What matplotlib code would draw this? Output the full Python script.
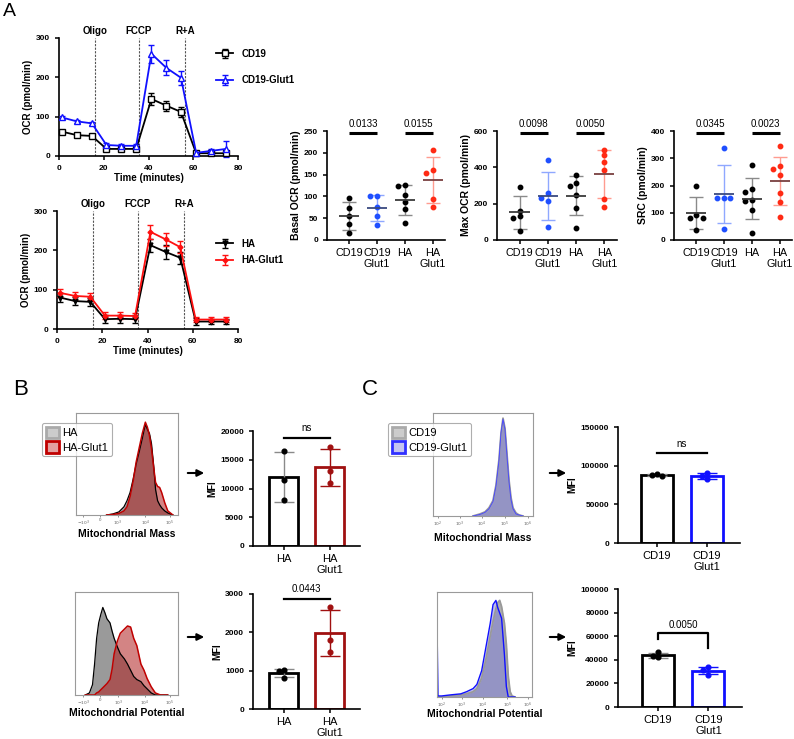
import numpy as np
import matplotlib
matplotlib.use("Agg")
import matplotlib.pyplot as plt
from matplotlib.patches import Patch, FancyArrowPatch

plt.rcParams['font.family'] = ['Liberation Sans', 'DejaVu Sans']
plt.rcParams['axes.linewidth'] = 1.2

# ---------------- data ----------------
# A: seahorse OCR traces
time_min = [1.3, 8, 14.7, 21.2, 27.9, 34.5, 41.3, 48, 54.5, 61.3, 68, 74.6]
inject_times = [16, 35.7, 56.3]
inject_names = ['Oligo', 'FCCP', 'R+A']
ocr_cd19 = [62, 53, 51, 18, 18, 18, 145, 128, 112, 7, 7, 7]
ocr_cd19_err = [4, 3, 3, 3, 3, 3, 16, 13, 12, 3, 3, 3]
ocr_cd19glut1 = [98, 88, 83, 28, 26, 26, 260, 224, 199, 8, 13, 18]
ocr_cd19glut1_err = [4, 4, 4, 4, 4, 4, 23, 19, 18, 4, 5, 20]
ocr_ha = [80, 71, 69, 25, 26, 25, 213, 196, 181, 19, 19, 19]
ocr_ha_err = [12, 10, 10, 10, 10, 10, 16, 18, 15, 10, 6, 7]
ocr_haglut1 = [92, 84, 82, 34, 34, 33, 247, 228, 208, 24, 24, 24]
ocr_haglut1_err = [10, 9, 9, 8, 8, 8, 18, 16, 16, 6, 6, 6]

# A: per-sample summary values
groups = ['CD19', 'CD19\nGlut1', 'HA', 'HA\nGlut1']
basal = [[96, 74, 55, 36, 15], [101, 101, 75, 55, 35],
         [123, 126, 103, 88, 72, 38], [206, 161, 154, 95, 76]]
maxocr = [[293, 160, 132, 122, 51], [439, 232, 256, 214, 70],
          [315, 357, 296, 247, 177, 64], [498, 470, 430, 384, 223, 183]]
src = [[197, 92, 82, 82, 37], [338, 155, 155, 155, 40],
       [274, 176, 188, 144, 146, 110, 24], [345, 261, 271, 237, 173, 139, 85]]
basal_p = ['0.0133', '0.0155']
max_p = ['0.0098', '0.0050']
src_p = ['0.0345', '0.0023']

# B/C: flow histograms (x in arbitrary channel units, y in % of max)
mass_x_B = [30, 36, 42, 47, 50, 53, 56, 59, 62, 65, 68, 70, 72, 74, 76, 78, 80, 82, 84, 87, 90, 95]
mass_HA = [0, 1, 3, 8, 14, 22, 35, 50, 62, 75, 89, 84, 80, 70, 50, 25, 14, 10, 7, 4, 2, 0]
mass_HAGlut1 = [0, 0.5, 1.5, 4, 8, 18, 33, 52, 66, 80, 91, 86, 78, 65, 48, 32, 28, 27, 22, 12, 4, 0]
pot_x_B = [10, 14, 17, 19, 21, 23, 25, 27, 29, 31, 34, 36, 38, 41, 44, 48, 51, 54, 57, 60, 64, 67, 70, 74, 78, 83, 90]
pot_HA = [0, 2, 10, 30, 55, 70, 78, 85, 80, 74, 70, 62, 55, 47, 40, 35, 30, 24, 18, 15, 13, 9, 6, 2, 0, 0, 0]
pot_HAGlut1 = [0, 0, 0, 0, 2, 3, 5, 7, 9, 11, 15, 25, 40, 52, 60, 64, 67, 66, 55, 48, 30, 24, 16, 8, 2, 0, 0]
mass_x_C = [40, 47, 52, 56, 60, 63, 66, 68, 70, 72, 74, 76, 78, 80, 83, 86, 90]
mass_CD19 = [0, 2, 4, 8, 15, 30, 55, 80, 95, 85, 60, 35, 18, 8, 3, 1, 0]
mass_CD19Glut1 = [0, 1.5, 3.5, 7, 14, 29, 54, 81, 94, 84, 58, 33, 16, 7, 2, 1, 0]
pot_x_C = [0, 1, 5, 14, 25, 31, 38, 42, 47, 52, 56, 59, 62, 64, 66, 68, 71, 73, 75, 77, 79, 82]
pot_CD19Glut1 = [72, 1, 1, 2, 3, 5, 8, 12, 25, 50, 70, 88, 92, 85, 80, 75, 40, 10, 0, 0, 0, 0]
pot_CD19 = [0, 0, 0, 1, 2, 3, 5, 8, 18, 38, 58, 72, 84, 90, 92, 86, 70, 50, 20, 5, 1, 0]
ticks_B = [r'$-10^3$', '0', r'$10^3$', r'$10^4$', r'$10^5$']
ticks_C = [r'$10^2$', r'$10^3$', r'$10^4$', r'$10^5$', r'$10^6$']

# B/C: MFI bars
mfi_mass_HA = [[16500, 11500, 8000], [17200, 13000, 10900]]
mfi_pot_HA = [[1020, 990, 820], [2650, 1800, 1480]]
mfi_mass_CD19 = [[86500, 89500, 88000], [90500, 83000, 87000]]
mfi_pot_CD19 = [[46500, 42500, 43000], [33500, 31500, 27500]]

# ---------------- layout helpers ----------------
W, H = 794, 739
fig = plt.figure(figsize=(W / 100, H / 100), dpi=100)


def px_axes(l, t, r, b):
    return fig.add_axes([l / W, 1 - b / H, (r - l) / W, (b - t) / H])


def prism(ax):
    ax.spines['top'].set_visible(False)
    ax.spines['right'].set_visible(False)
    ax.tick_params(width=1.1, length=3, labelsize=6)
    for t in ax.get_yticklabels():
        t.set_fontweight('bold')


def swarm(vals, ymax, h_px, unit_px, step=6.0, rad=5.0):
    ys = np.asarray(vals, float) / ymax * h_px
    offs = np.zeros(len(ys))
    placed = []
    for i in np.argsort(-ys):
        for k in [0, -1, 1, -2, 2, -3, 3]:
            xp = k * step
            if all(np.hypot(xp - px, ys[i] - py) >= rad for px, py in placed):
                break
        placed.append((xp, ys[i]))
        offs[i] = xp / unit_px
    return offs


# ---------------- A: OCR traces ----------------
def ocr_panel(box, series, legend_xy, lspace, inj_dy):
    ax = px_axes(*box)
    for y, e, col, mk, mfc, ms, lab in series:
        ax.errorbar(time_min, y, yerr=e, color=col, marker=mk, mfc=mfc, mec=col,
                    ms=ms, lw=1.3, elinewidth=1, capsize=2.5, capthick=1, label=lab,
                    clip_on=False, zorder=3)
    for t, name in zip(inject_times, inject_names):
        ax.axvline(t, color='#555555', ls=(0, (2, 1.2)), lw=0.8, zorder=1)
        ax.text(t, 300 + inj_dy, name, ha='center', va='bottom', fontsize=7,
                fontweight='bold', clip_on=False)
    ax.set_xlim(0, 80)
    ax.set_ylim(0, 300)
    ax.set_xticks([0, 20, 40, 60, 80])
    ax.set_yticks([0, 100, 200, 300])
    prism(ax)
    for t in ax.get_xticklabels():
        t.set_fontweight('bold')
    ax.set_xlabel('Time (minutes)', fontsize=7, fontweight='bold', labelpad=1)
    ax.set_ylabel('OCR (pmol/min)', fontsize=7, fontweight='bold', labelpad=2)
    leg = ax.legend(loc='upper left', bbox_to_anchor=(legend_xy[0] / W, 1 - legend_xy[1] / H),
                    bbox_transform=fig.transFigure, frameon=False, fontsize=7,
                    handlelength=1.8, labelspacing=lspace, borderaxespad=0)
    for t in leg.get_texts():
        t.set_fontweight('bold')
    return ax


ocr_panel((59, 38, 238, 156),
          [(ocr_cd19, ocr_cd19_err, 'black', 's', 'white', 4, 'CD19'),
           (ocr_cd19glut1, ocr_cd19glut1_err, '#1010ff', '^', 'white', 4.5, 'CD19-Glut1')],
          (212, 45), 1.7, 6)
ocr_panel((57, 211, 238, 329),
          [(ocr_ha, ocr_ha_err, 'black', 'v', 'black', 3.5, 'HA'),
           (ocr_haglut1, ocr_haglut1_err, '#ff1010', 'D', '#ff1010', 2.5, 'HA-Glut1')],
          (212, 235), 0.65, 6)

# ---------------- A: summary scatter ----------------
dot_colors = ['black', '#1f4fff', 'black', '#ff2a14']
err_colors = ['#8a8a8a', '#8fa8ff', '#8a8a8a', '#ff9c90']
mean_colors = ['#3a3a3a', '#3a4a80', '#3a3a3a', '#7a4040']


def scatter_panel(box, data, ymax, yticks, ylabel, pvals):
    ax = px_axes(*box)
    xl = (-0.8, 3.45)
    unit_px = (box[2] - box[0]) / (xl[1] - xl[0])
    for i, vals in enumerate(data):
        offs = swarm(vals, ymax, box[3] - box[1], unit_px, step=6.5, rad=4.8)
        m, s = np.mean(vals), np.std(vals, ddof=1)
        ax.errorbar(i, m, yerr=s, fmt='none', ecolor=err_colors[i], elinewidth=1,
                    capsize=5, capthick=1, zorder=2)
        ax.hlines(m, i - 0.36, i + 0.36, color=mean_colors[i], lw=1.3, zorder=4)
        ax.plot(i + offs, vals, 'o', ms=3.2, color=dot_colors[i], zorder=3, clip_on=False)
    for j, p in enumerate(pvals):
        a, b = 2 * j, 2 * j + 1
        yb = ymax * 0.98
        ax.plot([a, b], [yb, yb], color='black', lw=2.2, clip_on=False,
                solid_capstyle='butt')
        ax.annotate(p, (0.5 * (a + b), yb), xytext=(0, 3), textcoords='offset points',
                    ha='center', va='bottom', fontsize=7, annotation_clip=False)
    ax.set_xlim(*xl)
    ax.set_ylim(0, ymax)
    ax.set_yticks(yticks)
    ax.set_xticks(range(4))
    ax.set_xticklabels(groups, fontsize=7.8, linespacing=1.05)
    prism(ax)
    ax.tick_params(axis='x', labelsize=7.8, pad=3)
    ax.set_ylabel(ylabel, fontsize=7.5, fontweight='bold', labelpad=2)


scatter_panel((327, 131, 445, 240), basal, 250, [0, 50, 100, 150, 200, 250],
              'Basal OCR (pmol/min)', basal_p)
scatter_panel((497, 131, 617, 240), maxocr, 600, [0, 200, 400, 600],
              'Max OCR (pmol/min)', max_p)
scatter_panel((674, 131, 792, 240), src, 400, [0, 100, 200, 300, 400],
              'SRC (pmol/min)', src_p)


# ---------------- B/C: histograms ----------------
def hist_panel(box, curves, ticks, tlabels, xlabel, lab_y, legend=None):
    ax = px_axes(*box)
    for x, y, fc, ec, alpha, lw in curves:
        ax.fill_between(x, y, color=fc, alpha=alpha, lw=0)
        ax.plot(x, y, color=ec, lw=lw)
    ax.set_xlim(0, 100)
    ax.set_ylim(0, 100)
    ax.set_yticks([])
    ax.set_xticks(ticks)
    ax.set_xticklabels(tlabels, fontsize=3.2, color='#444444')
    ax.tick_params(axis='x', length=1.5, width=0.5, pad=1, colors='#666666')
    for s in ax.spines.values():
        s.set_color('#9a9a9a')
        s.set_linewidth(0.8)
    fig.text((box[0] + box[2]) / 2 / W, 1 - lab_y / H, xlabel, ha='center', va='center',
             fontsize=7.5, fontweight='bold')
    if legend:
        handles, lx, ly = legend
        leg = ax.legend(handles=handles, loc='upper left', bbox_to_anchor=(lx / W, 1 - ly / H),
                        bbox_transform=fig.transFigure, fontsize=8, frameon=True, fancybox=True,
                        edgecolor='#9a9a9a', handlelength=1.2, handleheight=1.2,
                        handletextpad=0.3, labelspacing=0.25, borderpad=0.35, borderaxespad=0)
        leg.get_frame().set_linewidth(0.8)
    return ax


gray_fc = '#9a9a9a'
red_fc = '#b02020'
hist_panel((76, 413, 178, 515),
           [(mass_x_B, mass_HA, gray_fc, 'black', 1, 0.9),
            (mass_x_B, mass_HAGlut1, red_fc, '#c00000', 0.55, 1.1)],
           [7, 24, 41, 68, 92], ticks_B, 'Mitochondrial Mass', 534,
           ([Patch(fc='#cccccc', ec='#aaaaaa', lw=2, label='HA'),
             Patch(fc='#e3a0a0', ec='#c00000', lw=2, label='HA-Glut1')], 42, 423))
hist_panel((75, 592, 178, 695),
           [(pot_x_B, pot_HA, gray_fc, 'black', 1, 0.9),
            (pot_x_B, pot_HAGlut1, red_fc, '#c00000', 0.55, 1.1)],
           [8, 24, 42, 68, 92], ticks_B, 'Mitochondrial Potential', 713)
hist_panel((433, 413, 533, 516),
           [(mass_x_C, mass_CD19, '#b0b0b0', '#999999', 1, 1.3),
            (mass_x_C, mass_CD19Glut1, '#7a7ad8', '#4a4aff', 0.5, 0.7)],
           [5, 27, 49, 72, 95], ticks_C, 'Mitochondrial Mass', 538,
           ([Patch(fc='#cccccc', ec='#aaaaaa', lw=2, label='CD19'),
             Patch(fc='#c4c4f0', ec='#3030ff', lw=2, label='CD19-Glut1')], 388, 423))
hist_panel((437, 592, 532, 697),
           [(pot_x_C, pot_CD19, '#b0b0b0', '#999999', 1, 1.3),
            (pot_x_C, pot_CD19Glut1, '#7a7ad8', '#1010ff', 0.5, 1.0)],
           [5, 26, 48, 74, 96], ticks_C, 'Mitochondrial Potential', 714)


# ---------------- B/C: MFI bars ----------------
def bar_panel(box, data, ymax, yticks, labels, edge, errc, dotc, xl, sig):
    ax = px_axes(*box)
    unit_px = (box[2] - box[0]) / (xl[1] - xl[0])
    for i, vals in enumerate(data):
        m, s = np.mean(vals), np.std(vals, ddof=1)
        ax.bar(i, m, width=0.63, facecolor='white', edgecolor=edge[i], lw=2, zorder=1)
        ax.errorbar(i, m, yerr=s, fmt='none', ecolor=errc[i], elinewidth=1,
                    capsize=7, capthick=1, zorder=2)
        offs = swarm(vals, ymax, box[3] - box[1], unit_px, step=5, rad=4.5)
        ax.plot(i + offs, vals, 'o', ms=3.4, color=dotc[i], zorder=3)
    text, yline, ytext, ends = sig
    if ends is None:
        ax.plot([0, 1], [yline, yline], color='black', lw=1.6, clip_on=False)
    else:
        ax.plot([0, 0, 1, 1], [ends[0], yline, yline, ends[1]], color='black', lw=1.6,
                clip_on=False)
    ax.text(0.5, ytext, text, ha='center', va='center', fontsize=7, clip_on=False)
    ax.set_xlim(*xl)
    ax.set_ylim(0, ymax)
    ax.set_yticks(yticks)
    ax.set_xticks([0, 1])
    ax.set_xticklabels(labels, fontsize=8, linespacing=1.05)
    prism(ax)
    ax.tick_params(axis='x', labelsize=8, pad=3)
    ax.set_ylabel('MFI', fontsize=7, fontweight='bold', labelpad=2)


dark_red = '#a01010'
bar_panel((253, 431, 360, 546), mfi_mass_HA, 20000, [0, 5000, 10000, 15000, 20000],
          ['HA', 'HA\nGlut1'], ['black', dark_red], ['#8a8a8a', dark_red], ['black', dark_red],
          (-0.66, 1.65), ('ns', 18800, 20500, None))
bar_panel((253, 594, 360, 709), mfi_pot_HA, 3000, [0, 1000, 2000, 3000],
          ['HA', 'HA\nGlut1'], ['black', dark_red], ['#8a8a8a', dark_red], ['black', dark_red],
          (-0.66, 1.65), ('0.0443', 2870, 3130, None))
bar_panel((618, 427, 740, 543), mfi_mass_CD19, 150000, [0, 50000, 100000, 150000],
          ['CD19', 'CD19\nGlut1'], ['black', '#1010ff'], ['#8a8a8a', '#1010ff'],
          ['black', '#1010ff'], (-0.78, 1.66), ('ns', 116400, 127500, None))
bar_panel((618, 589, 742, 707), mfi_pot_CD19, 100000, [0, 20000, 40000, 60000, 80000, 100000],
          ['CD19', 'CD19\nGlut1'], ['black', '#1010ff'], ['#8a8a8a', '#1010ff'],
          ['black', '#1010ff'], (-0.78, 1.66), ('0.0050', 62700, 69500, (57600, 50000)))

# arrows from histograms to bar charts
for x0, x1, y in [(185, 207, 473), (185, 207, 637), (547, 569, 473), (547, 569, 637)]:
    fig.add_artist(FancyArrowPatch((x0 / W, 1 - y / H), (x1 / W, 1 - y / H),
                                   transform=fig.transFigure, arrowstyle='-|>',
                                   mutation_scale=10, lw=1.5, color='black'))

# panel letters
fig.text(3 / W, 1 - 3 / H, 'A', fontsize=14, va='top', ha='left')
fig.text(13 / W, 1 - 379 / H, 'B', fontsize=16, va='top', ha='left')
fig.text(362 / W, 1 - 379 / H, 'C', fontsize=16, va='top', ha='left')

fig.savefig('out.png', dpi=100)
